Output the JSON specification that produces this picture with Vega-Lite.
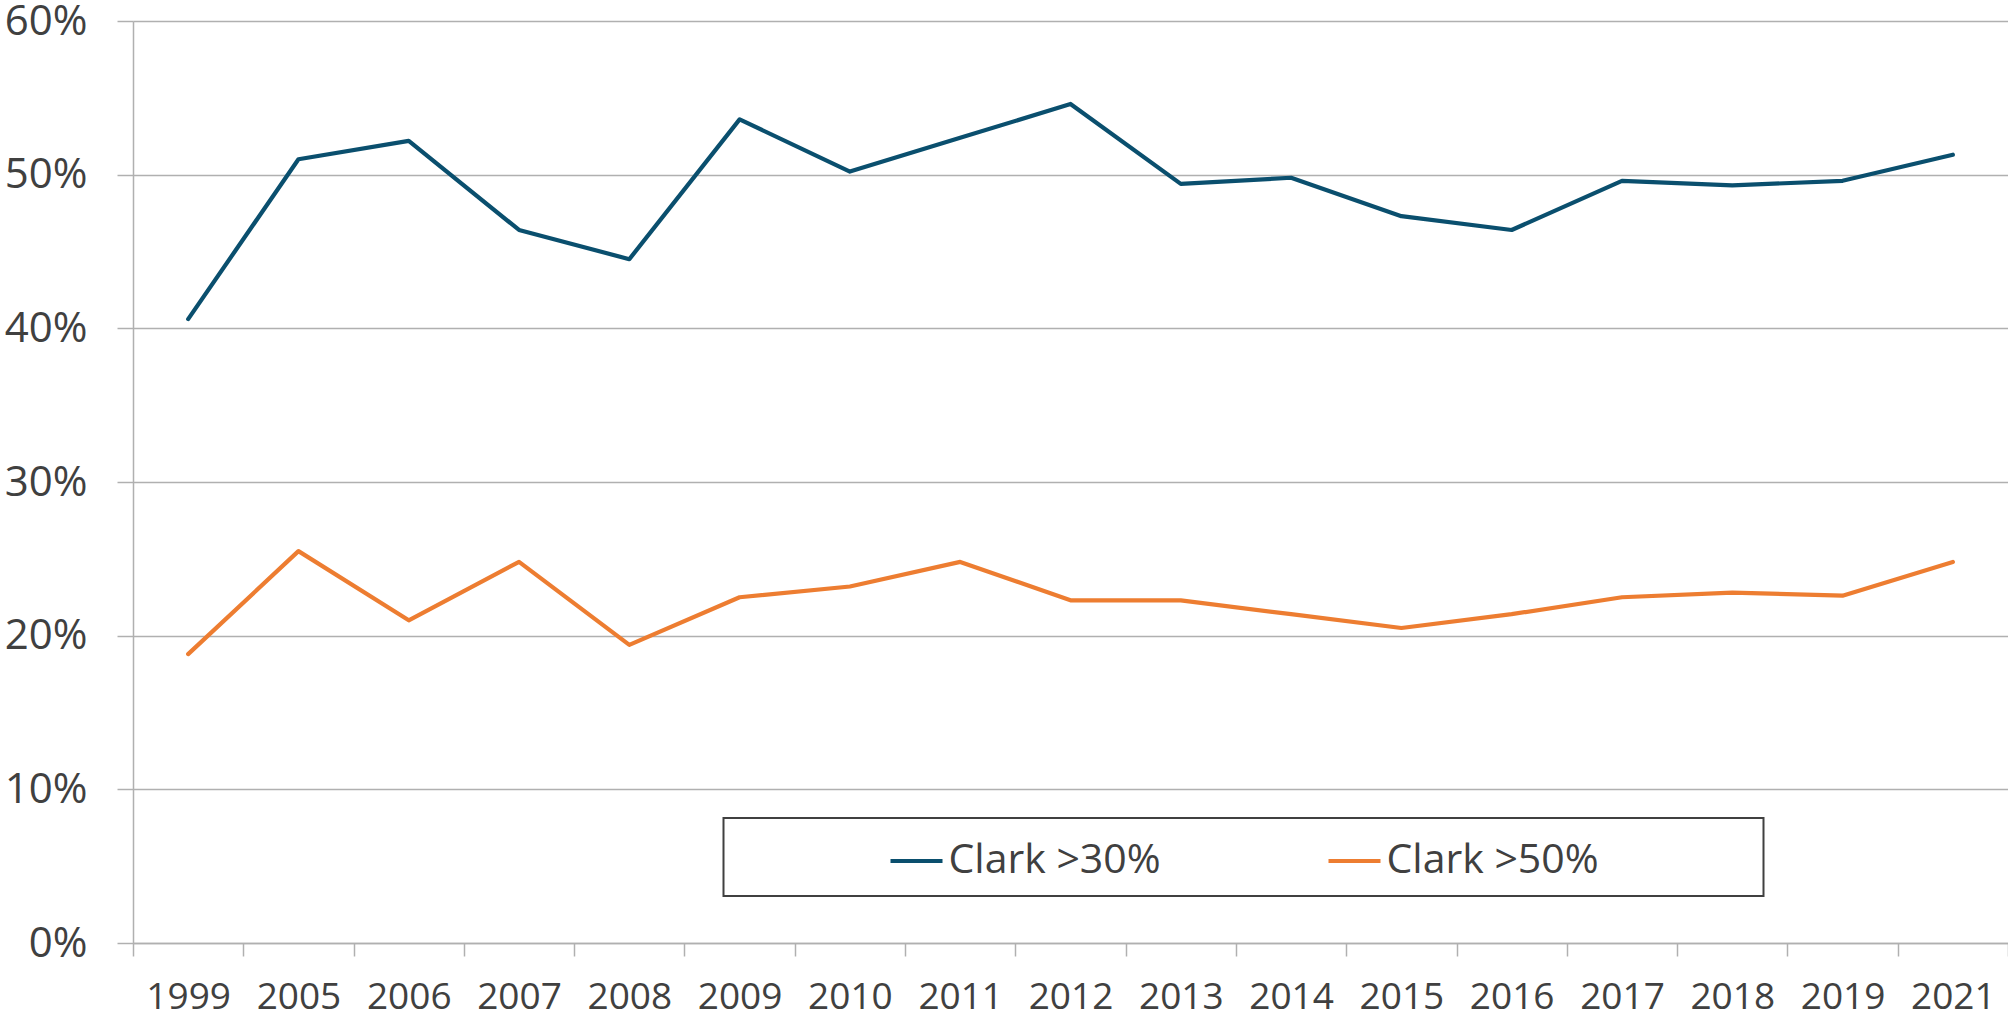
{
  "$schema": "https://vega.github.io/schema/vega-lite/v6.json",
  "width": 1875,
  "height": 922,
  "autosize": {"type": "none"},
  "padding": {"left": 133, "top": 21, "right": 0, "bottom": 76},
  "background": "white",
  "config": {"view": {"stroke": null}, "font": "Open Sans"},
  "data": {
    "values": [
      {"year": "1999", "series": "Clark >30%", "value": 0.406},
      {"year": "2005", "series": "Clark >30%", "value": 0.510},
      {"year": "2006", "series": "Clark >30%", "value": 0.522},
      {"year": "2007", "series": "Clark >30%", "value": 0.464},
      {"year": "2008", "series": "Clark >30%", "value": 0.445},
      {"year": "2009", "series": "Clark >30%", "value": 0.536},
      {"year": "2010", "series": "Clark >30%", "value": 0.502},
      {"year": "2011", "series": "Clark >30%", "value": 0.524},
      {"year": "2012", "series": "Clark >30%", "value": 0.546},
      {"year": "2013", "series": "Clark >30%", "value": 0.494},
      {"year": "2014", "series": "Clark >30%", "value": 0.498},
      {"year": "2015", "series": "Clark >30%", "value": 0.473},
      {"year": "2016", "series": "Clark >30%", "value": 0.464},
      {"year": "2017", "series": "Clark >30%", "value": 0.496},
      {"year": "2018", "series": "Clark >30%", "value": 0.493},
      {"year": "2019", "series": "Clark >30%", "value": 0.496},
      {"year": "2021", "series": "Clark >30%", "value": 0.513},
      {"year": "1999", "series": "Clark >50%", "value": 0.188},
      {"year": "2005", "series": "Clark >50%", "value": 0.255},
      {"year": "2006", "series": "Clark >50%", "value": 0.210},
      {"year": "2007", "series": "Clark >50%", "value": 0.248},
      {"year": "2008", "series": "Clark >50%", "value": 0.194},
      {"year": "2009", "series": "Clark >50%", "value": 0.225},
      {"year": "2010", "series": "Clark >50%", "value": 0.232},
      {"year": "2011", "series": "Clark >50%", "value": 0.248},
      {"year": "2012", "series": "Clark >50%", "value": 0.223},
      {"year": "2013", "series": "Clark >50%", "value": 0.223},
      {"year": "2014", "series": "Clark >50%", "value": 0.214},
      {"year": "2015", "series": "Clark >50%", "value": 0.205},
      {"year": "2016", "series": "Clark >50%", "value": 0.214},
      {"year": "2017", "series": "Clark >50%", "value": 0.225},
      {"year": "2018", "series": "Clark >50%", "value": 0.228},
      {"year": "2019", "series": "Clark >50%", "value": 0.226},
      {"year": "2021", "series": "Clark >50%", "value": 0.248}
    ]
  },
  "mark": {"type": "line", "strokeWidth": 4.2, "strokeCap": "round", "strokeJoin": "round"},
  "encoding": {
    "x": {
      "field": "year",
      "type": "ordinal",
      "bandPosition": 0.5,
      "scale": {"type": "band", "paddingInner": 0, "paddingOuter": 0},
      "axis": {
        "title": null,
        "tickBand": "extent",
        "labelAngle": 0,
        "labelFontSize": 37,
        "labelColor": "#404040",
        "labelBaseline": "alphabetic",
        "labelPadding": 52,
        "tickSize": 13,
        "tickColor": "#b0b0b0",
        "tickWidth": 1.5,
        "domainColor": "#b0b0b0",
        "domainWidth": 1.5,
        "grid": false
      }
    },
    "y": {
      "field": "value",
      "type": "quantitative",
      "scale": {"domain": [0, 0.6], "nice": false},
      "axis": {
        "title": null,
        "values": [0, 0.1, 0.2, 0.3, 0.4, 0.5, 0.6],
        "format": ".0%",
        "labelFontSize": 42,
        "labelColor": "#404040",
        "labelPadding": 30,
        "labelFlush": false,
        "tickSize": 16,
        "tickColor": "#b0b0b0",
        "tickWidth": 1.5,
        "domainColor": "#b0b0b0",
        "domainWidth": 1.5,
        "grid": true,
        "gridColor": "#b0b0b0",
        "gridWidth": 1.5
      }
    },
    "color": {
      "field": "series",
      "type": "nominal",
      "scale": {"domain": ["Clark >30%", "Clark >50%"], "range": ["#0a4f6e", "#ed7d31"]},
      "legend": {
        "orient": "none",
        "legendX": 590.5,
        "legendY": 797,
        "direction": "horizontal",
        "title": " ",
        "titleOrient": "left",
        "titleFontSize": 1,
        "titlePadding": 150,
        "padding": 15,
        "strokeColor": "#404040",
        "fillColor": "white",
        "symbolType": "stroke",
        "symbolSize": 2704,
        "symbolStrokeWidth": 4,
        "labelFontSize": 41,
        "labelColor": "#404040",
        "labelOffset": 4,
        "labelLimit": 1000,
        "columnPadding": 159,
        "labelExpr": "datum.label == 'Clark >50%' ? datum.label + '\u00a0\u00a0\u00a0\u00a0\u00a0\u00a0\u00a0\u00a0\u00a0\u00a0\u00a0\u00a0\u00a0\u00a0\u200b' : datum.label",
        "encode": {"legend": {"update": {"strokeWidth": {"value": 2}}}}
      }
    }
  }
}
